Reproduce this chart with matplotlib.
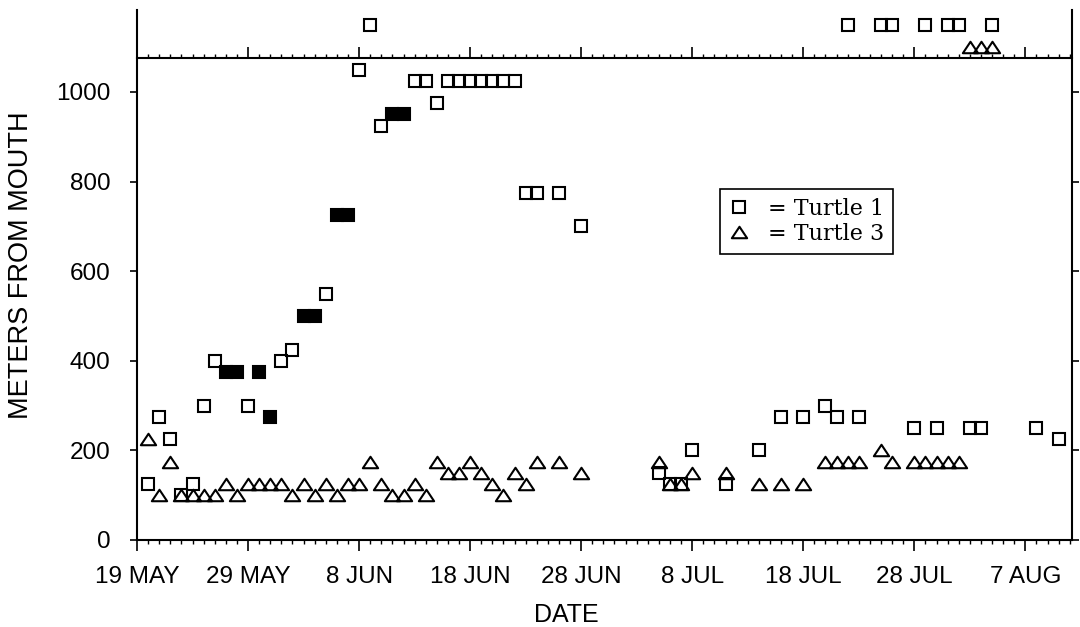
import matplotlib
matplotlib.use("Agg")
import matplotlib.pyplot as plt
from matplotlib.lines import Line2D
from matplotlib.path import Path
from matplotlib.ticker import NullFormatter

plt.rcParams['font.family'] = ['Liberation Sans', 'DejaVu Sans']

# days after 19 May; values are meters from mouth
# points above the 1075 line are the off-scale (upstream) positions
t1_days = [1, 2, 3, 4, 5, 6, 7, 10, 13, 14, 17, 20, 21, 22, 25, 26, 27, 28, 29, 30,
           31, 32, 33, 34, 35, 36, 38, 40, 47, 48, 49, 50, 53, 56, 58, 60, 62, 63,
           64, 65, 67, 68, 70, 71, 72, 73, 74, 75, 76, 77, 81, 83]
t1_vals = [125, 275, 225, 100, 125, 300, 400, 300, 400, 425, 550, 1050, 1150, 925,
           1025, 1025, 975, 1025, 1025, 1025, 1025, 1025, 1025, 1025, 775, 775, 775,
           700, 150, 125, 125, 200, 125, 200, 275, 275, 300, 275, 1150, 275, 1150,
           1150, 250, 1150, 250, 1150, 1150, 250, 250, 1150, 250, 225]

# filled squares
t1f_days = [8, 9, 11, 12, 15, 16, 18, 19, 23, 24]
t1f_vals = [375, 375, 375, 275, 500, 500, 725, 725, 950, 950]

t3_days = [1, 2, 3, 4, 5, 6, 7, 8, 9, 10, 11, 12, 13, 14, 15, 16, 17, 18, 19, 20,
           21, 22, 23, 24, 25, 26, 27, 28, 29, 30, 31, 32, 33, 34, 35, 36, 38, 40,
           47, 48, 49, 50, 53, 56, 58, 60, 62, 63, 64, 65, 67, 68, 70, 71, 72, 73,
           74, 75, 76, 77]
t3_vals = [225, 100, 175, 100, 100, 100, 100, 125, 100, 125, 125, 125, 125, 100, 125,
           100, 125, 100, 125, 125, 175, 125, 100, 100, 125, 100, 175, 150, 150, 175,
           150, 125, 100, 150, 125, 175, 175, 150, 175, 125, 125, 150, 150, 125, 125,
           125, 175, 175, 175, 175, 200, 175, 175, 175, 175, 175, 175, 1100, 1100, 1100]

date_ticks = [0, 10, 20, 30, 40, 50, 60, 70, 80]
date_labels = ['19 MAY', '29 MAY', '8 JUN', '18 JUN', '28 JUN', '8 JUL',
               '18 JUL', '28 JUL', '7 AUG']
y_ticks = [0, 200, 400, 600, 800, 1000]

xmax = 84.2
ymax = 1183
break_line = 1075

fig = plt.figure(figsize=(10.8, 6.27), dpi=100)
ax = fig.add_axes([137/1080, 1 - 540/627, 935/1080, 530/627])

# wide, flat open triangle
tri = Path([(-1, -0.75), (1, -0.75), (0, 0.75), (-1, -0.75)], closed=True)

ax.plot(t1_days, t1_vals, ls='none', marker='s', ms=9, mfc='none', mec='black',
        mew=1.5, clip_on=False)
ax.plot(t1f_days, t1f_vals, ls='none', marker='s', ms=9, mfc='black', mec='black',
        mew=1.5, clip_on=False)
ax.plot(t3_days, t3_vals, ls='none', marker=tri, ms=11, mfc='none', mec='black',
        mew=1.5, clip_on=False)

ax.set_xlim(0, xmax)
ax.set_ylim(0, ymax)

ax.spines['top'].set_visible(False)
for s in ['left', 'right', 'bottom']:
    ax.spines[s].set_linewidth(1.5)

ax.set_xticks(date_ticks)
ax.set_xticklabels(date_labels)
ax.set_xticks(range(0, 85), minor=True)
ax.tick_params(axis='x', which='major', direction='out', length=8, width=1.2,
               pad=11, labelsize=17.5)
ax.tick_params(axis='x', which='minor', direction='out', length=3, width=1.0)

ax.set_yticks(y_ticks)
ax.tick_params(axis='y', left=True, right=True, direction='out', length=5,
               width=1.2, pad=14, labelsize=17.5)

# inner axis line with day ticks at the top of the scale
sec = ax.secondary_xaxis(break_line / ymax)
sec.set_xticks(date_ticks)
sec.set_xticks(range(0, 85), minor=True)
sec.xaxis.set_major_formatter(NullFormatter())
sec.tick_params(which='major', direction='out', length=8, width=1.2)
sec.tick_params(which='minor', direction='out', length=3, width=1.0)
sec.spines['top'].set_linewidth(1.5)

ax.set_xlabel('DATE', fontsize=18)
ax.xaxis.set_label_coords(0.459, -0.119)
ax.set_ylabel('METERS FROM MOUTH', fontsize=19.5)
ax.yaxis.set_label_coords(-0.11, 0.519)

handles = [
    Line2D([], [], ls='none', marker='s', ms=9, mfc='none', mec='black', mew=1.5),
    Line2D([], [], ls='none', marker=tri, ms=11, mfc='none', mec='black', mew=1.5),
]
leg = ax.legend(handles, ['= Turtle 1', '= Turtle 3'], loc='upper left',
                bbox_to_anchor=(0.6235, 0.662), borderaxespad=0,
                prop={'family': 'DejaVu Serif', 'size': 16},
                handlelength=0.95, handletextpad=0.8, borderpad=0.4,
                labelspacing=0.12, fancybox=False, framealpha=1)
leg.get_frame().set_edgecolor('black')
leg.get_frame().set_linewidth(1.2)

fig.savefig('out.png', dpi=100)
